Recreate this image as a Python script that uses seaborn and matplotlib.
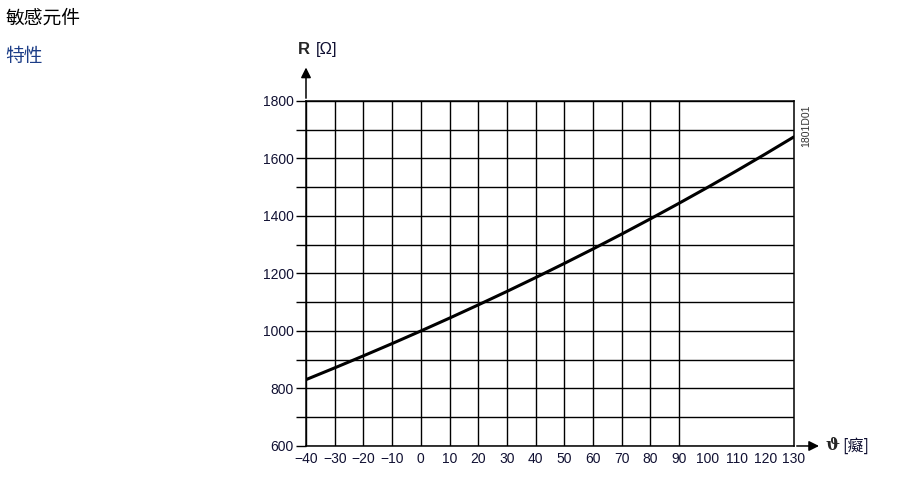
import matplotlib
matplotlib.use('Agg')
import matplotlib.pyplot as plt
import seaborn as sns

# Kennlinie LG-Ni1000
temps = [-40, -30, -20, -10, 0, 10, 20, 30, 40, 50, 60, 70, 80, 90, 100, 110, 120, 130]
resist = [830.8, 871.7, 913.5, 956.2, 1000.0, 1044.8, 1090.7, 1137.6, 1185.7, 1235.0,
          1285.4, 1337.1, 1390.1, 1444.4, 1500.0, 1557.0, 1615.4, 1675.3]
x_ticks = list(range(-40, 131, 10))
y_ticks = list(range(600, 1801, 100))
y_labels = [str(v) if v % 200 == 0 else '' for v in y_ticks]

sns.set_style("white")
plt.rcParams['font.family'] = ['Liberation Sans', 'Noto Sans CJK SC', 'DejaVu Sans']

fig = plt.figure(figsize=(9, 4.88), dpi=100)
ax = fig.add_axes([0.34, 0.0861, 0.5422, 0.707])

sns.lineplot(x=temps, y=resist, ax=ax, color='black', linewidth=2.2)

ax.set_xlim(-40, 130)
ax.set_ylim(600, 1800)
ax.set_xticks(x_ticks)
ax.set_xticklabels([str(v).replace('-', '\u2212') for v in x_ticks])
ax.set_yticks(y_ticks)
ax.set_yticklabels(y_labels)
ax.tick_params(axis='x', length=0, pad=4, labelsize=10, labelcolor='#111133')
ax.tick_params(axis='y', length=7, width=1.0, color='black', pad=2, labelsize=10,
               labelcolor='#111133', direction='out', left=True)

ax.grid(True, color='black', linewidth=1.0)
for v, gl in zip(x_ticks, ax.get_xgridlines()):
    if v > 90:
        gl.set_visible(False)

for s in ax.spines.values():
    s.set_visible(True)
    s.set_color('black')
    s.set_linewidth(1.1)

# Achsenpfeile
ax.annotate('', xy=(0, 1.105), xytext=(0, 1.0), xycoords='axes fraction',
            arrowprops=dict(arrowstyle='-|>', color='black', lw=1.1, mutation_scale=15),
            annotation_clip=False)
ax.annotate('', xy=(1.057, 0), xytext=(1.0, 0), xycoords='axes fraction',
            arrowprops=dict(arrowstyle='-|>', color='black', lw=1.1, mutation_scale=15),
            annotation_clip=False)

ax.text(-0.017, 1.15, 'R', transform=ax.transAxes, fontsize=12, fontweight='bold',
        ha='left', va='center')
ax.text(0.02, 1.15, '[Ω]', transform=ax.transAxes, fontsize=12,
        color='#111133', ha='left', va='center')
ax.text(1.064, 0.0, 'ϑ', transform=ax.transAxes, fontsize=12, fontweight='bold',
        family=['DejaVu Serif'], ha='left', va='center')
ax.text(1.098, 0.0, '[癡]', transform=ax.transAxes, fontsize=11.5,
        family=['Noto Sans CJK SC', 'DejaVu Sans'], color='#111133', ha='left', va='center')
ax.text(1.026, 0.99, '1801D01', transform=ax.transAxes, fontsize=7.5, rotation=90,
        color='#333333', ha='center', va='top')

fig.text(0.006, 0.962, '敏感元件', fontsize=13.5, family=['Noto Sans CJK SC', 'DejaVu Sans'],
         ha='left', va='center', color='black')
fig.text(0.006, 0.885, '特性', fontsize=13.5, family=['Noto Sans CJK SC', 'DejaVu Sans'],
         ha='left', va='center', color='#1c3d87')

fig.savefig('out.png', dpi=100)
